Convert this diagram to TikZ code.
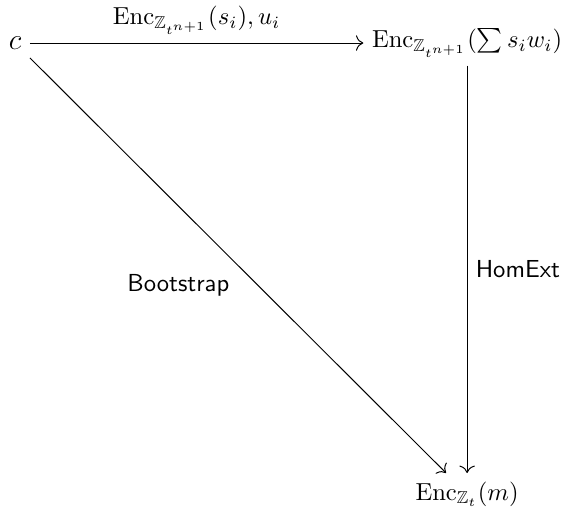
\documentclass[tikz,border=0pt]{standalone}
\usepackage{amsmath,amssymb}
\usepackage{tikz}
\usetikzlibrary{arrows.meta,positioning}

\begin{document}
\begin{tikzpicture}[
    map/.style={->,>={To[length=3pt]},line width=0.4pt},
    maplabel/.style={font=\sffamily}]
  \useasboundingbox (0,0) rectangle (8.068,-7.254);
  \node (src) at (0.214,-0.614) {\large $c$};
  \node (sum) at (6.67,-0.614) {$\mathrm{Enc}_{\mathbb{Z}_{t^{n+1}}}(\sum s_i w_i)$};
  \node (res) at (6.67,-7.054) {$\mathrm{Enc}_{\mathbb{Z}_t}(m)$};
  \draw[map] (src) -- node[above] {$\mathrm{Enc}_{\mathbb{Z}_{t^{n+1}}}(s_i), u_i$} (sum);
  \draw[map] (sum) -- node[right,maplabel] {HomExt} (res);
  \draw[map] (src) -- node[below left,maplabel] {Bootstrap} (res);
\end{tikzpicture}
\end{document}
